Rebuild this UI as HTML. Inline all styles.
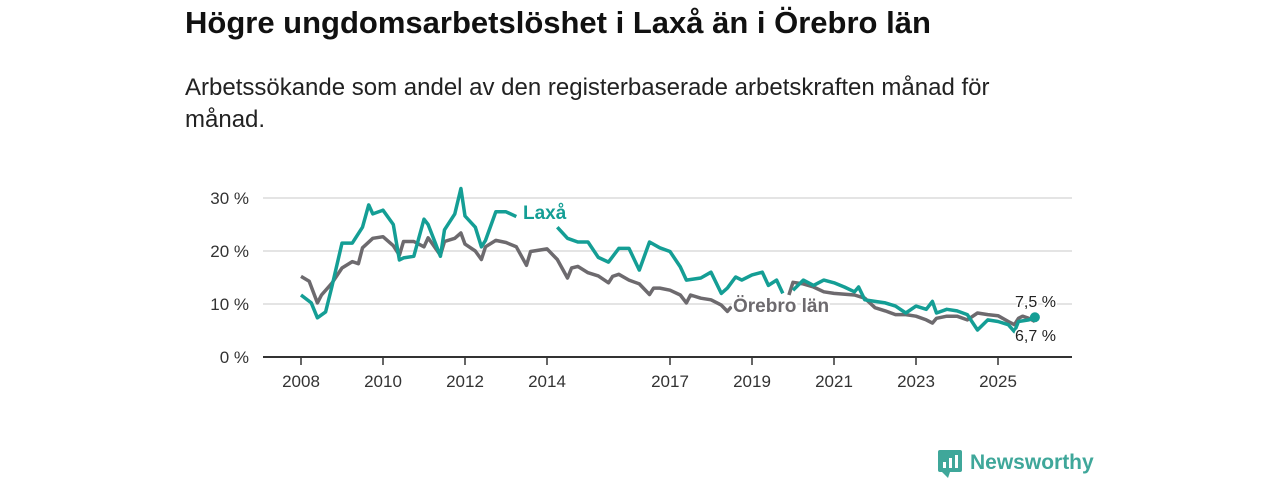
<!DOCTYPE html>
<html><head><meta charset="utf-8"><style>
body{margin:0;width:1280px;height:480px;background:#fff;font-family:"Liberation Sans","DejaVu Sans",sans-serif;overflow:hidden;position:relative}
h1{position:absolute;left:185px;top:5px;margin:0;font-size:31px;font-weight:bold;color:#111}
p{position:absolute;left:185px;top:72px;margin:0;font-size:24px;line-height:32px;color:#222;width:845px}
svg{position:absolute;left:0;top:0}
</style></head><body>
<h1>Högre ungdomsarbetslöshet i Laxå än i Örebro län</h1>
<p>Arbetssökande som andel av den registerbaserade arbetskraften månad för månad.</p>
<svg width="1280" height="480" id="chart"></svg>
<script>
const yTicks=[0,10,20,30];
const xTicks=[2008,2010,2012,2014,2017,2019,2021,2023,2025];
const laxaT=[2008,2008.25,2008.4,2008.6,2008.75,2009,2009.25,2009.5,2009.65,2009.75,2010,2010.25,2010.4,2010.5,2010.75,2011,2011.1,2011.25,2011.4,2011.5,2011.75,2011.9,2012,2012.25,2012.4,2012.5,2012.75,2013,2013.25,2013.3,2014.25,2014.5,2014.75,2015,2015.25,2015.5,2015.75,2016,2016.25,2016.5,2016.75,2017,2017.25,2017.4,2017.75,2018,2018.25,2018.4,2018.6,2018.75,2019,2019.25,2019.4,2019.6,2019.75,2019.8,2020,2020.25,2020.5,2020.75,2021,2021.25,2021.5,2021.6,2021.75,2022,2022.25,2022.5,2022.75,2023,2023.25,2023.4,2023.5,2023.75,2024,2024.25,2024.5,2024.75,2025,2025.25,2025.4,2025.5,2025.75,2025.9];
const laxaV=[11.7,10.2,7.4,8.5,13.2,21.5,21.5,24.5,28.7,27,27.7,25,18.3,18.7,19,26,25,22,19,24,27,31.8,26.6,24.5,20.8,22,27.4,27.4,26.5,null,24.5,22.4,21.7,21.7,18.8,17.9,20.5,20.5,16.4,21.7,20.6,19.9,17,14.5,14.9,16,12,13,15.1,14.5,15.5,16,13.5,14.5,12,null,12.6,14.5,13.5,14.5,14,13.2,12.3,13.2,10.8,10.5,10.2,9.6,8.3,9.6,9,10.5,8.3,9,8.7,8,5.1,7,6.7,6.1,4.8,6.7,7,7.5];
const orebroT=[2008,2008.2,2008.4,2008.5,2008.75,2009,2009.25,2009.4,2009.5,2009.75,2010,2010.25,2010.4,2010.5,2010.75,2011,2011.1,2011.4,2011.5,2011.75,2011.9,2012,2012.25,2012.4,2012.5,2012.75,2013,2013.25,2013.5,2013.6,2014,2014.25,2014.5,2014.6,2014.75,2015,2015.25,2015.5,2015.6,2015.75,2016,2016.25,2016.5,2016.6,2016.75,2017,2017.25,2017.4,2017.5,2017.75,2018,2018.25,2018.4,2018.5,2018.6,2019.9,2020,2020.25,2020.5,2020.75,2021,2021.5,2021.75,2022,2022.25,2022.5,2022.75,2023,2023.25,2023.4,2023.5,2023.75,2024,2024.25,2024.5,2024.75,2025,2025.25,2025.4,2025.5,2025.6,2025.75,2025.9];
const orebroV=[15.2,14.3,10.2,11.7,13.9,16.8,18,17.6,20.6,22.4,22.7,21,19.2,21.8,21.8,20.8,22.5,19.2,21.8,22.4,23.4,21.3,20,18.4,20.8,22,21.6,20.8,17.3,19.9,20.4,18.4,14.9,16.8,17.1,15.9,15.3,14,15.2,15.6,14.5,13.8,11.8,13,13,12.6,11.7,10.2,11.7,11.1,10.8,9.8,8.6,9.5,null,11.7,14.1,13.8,13.2,12.3,12.0,11.7,11.1,9.3,8.7,8,8,7.7,7,6.4,7.3,7.7,7.7,7,8.3,8,7.8,6.7,6.1,7.3,7.7,7.3,6.7];
const NS='http://www.w3.org/2000/svg',svg=document.getElementById('chart');
const x=t=>301+(t-2008)*41, y=v=>357-v*5.3;
function mk(tag,attrs,txt){const e=document.createElementNS(NS,tag);for(const k in attrs)e.setAttribute(k,attrs[k]);if(txt!=null)e.textContent=txt;svg.appendChild(e);return e;}
yTicks.forEach(v=>{
 if(v>0){const g=mk('line',{x1:263,x2:1072,y1:y(v),y2:y(v),stroke:'#dcdcdc','stroke-width':1.5});
 
 }
 const t=mk('text',{x:249,y:y(v)+6,'text-anchor':'end','font-size':17,fill:'#333'},v+' %');
 
 
});
xTicks.forEach(yr=>{
 const l=mk('line',{x1:x(yr),x2:x(yr),y1:357,y2:365,stroke:'#333','stroke-width':1.5});
 
 
 const t=mk('text',{x:x(yr),y:387,'text-anchor':'middle','font-size':17,fill:'#333'},yr);
 
 
});
const ax=mk('line',{x1:263,x2:1072,y1:357,y2:357,stroke:'#333','stroke-width':2});


function path(T,V){let d='',pen=false;T.forEach((t,i)=>{if(V[i]==null){pen=false;return;}d+=(pen?'L':'M')+x(t).toFixed(1)+','+y(V[i]).toFixed(1);pen=true;});return d;}
const pg=mk('path',{d:path(orebroT,orebroV),fill:'none',stroke:'#6d6a6e','stroke-width':3.5,'stroke-linejoin':'round'});


const pl=mk('path',{d:path(laxaT,laxaV),fill:'none',stroke:'#149e95','stroke-width':3.5,'stroke-linejoin':'round'});


const dot=mk('circle',{cx:x(laxaT[laxaT.length-1]),cy:y(laxaV[laxaV.length-1]),r:5,fill:'#149e95'});


const l1=mk('text',{x:523,y:219,'font-size':19,'font-weight':'bold',fill:'#149e95',stroke:'#fff','stroke-width':4,'paint-order':'stroke'},'Laxå');


const l2=mk('text',{x:733,y:312,'font-size':19,'font-weight':'bold',fill:'#6d6a6e',stroke:'#fff','stroke-width':4,'paint-order':'stroke'},'Örebro län');


const e1=mk('text',{x:1015,y:307,'font-size':16,fill:'#222',stroke:'#fff','stroke-width':3,'paint-order':'stroke'},'7,5 %');


const e2=mk('text',{x:1015,y:341,'font-size':16,fill:'#222',stroke:'#fff','stroke-width':3,'paint-order':'stroke'},'6,7 %');


const lg=mk('g',{});


lg.innerHTML='<rect x="938" y="450" width="24" height="22" rx="2" fill="#3fa79a"/><path d="M942 472 L948 478 L950 472Z" fill="#3fa79a"/><rect x="943" y="462" width="3" height="6" fill="#fff"/><rect x="949" y="458" width="3" height="10" fill="#fff"/><rect x="955" y="455" width="3" height="13" fill="#fff"/><text x="970" y="469" font-size="21" font-weight="bold" fill="#3fa79a">Newsworthy</text>';
</script>
</body></html>
